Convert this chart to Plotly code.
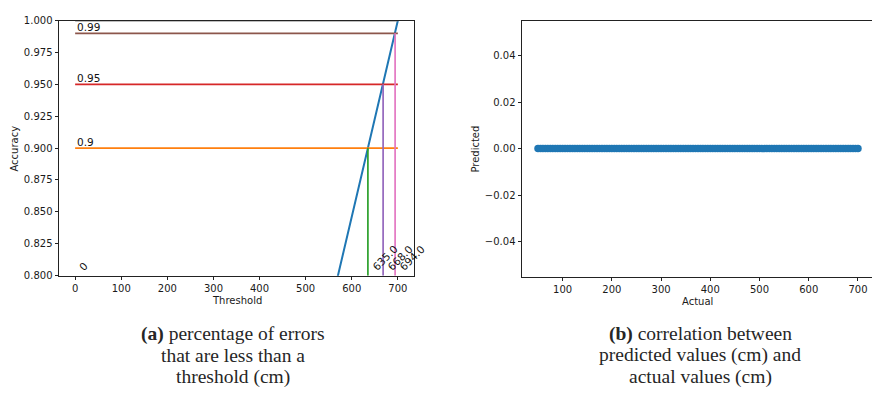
import plotly.graph_objects as go

# --- (a) accuracy vs. error threshold -------------------------------------
threshold = [0, 50, 700]
accuracy = [0.0, 0.0, 1.0]

acc_levels = [0.9, 0.95, 0.99, 1.0]
acc_level_labels = ["0.9", "0.95", "0.99", ""]
level_thresholds = [635.0, 668.0, 694.0]
level_threshold_labels = ["635.0", "668.0", "694.0"]
hline_colors = ["#ff7f0e", "#d62728", "#8c564b", "#7f7f7f"]
vline_colors = ["#2ca02c", "#9467bd", "#e377c2"]
x_ticks_a = [0, 100, 200, 300, 400, 500, 600, 700]
y_ticks_a = [0.8, 0.825, 0.85, 0.875, 0.9, 0.925, 0.95, 0.975, 1.0]

# --- (b) predicted vs. actual ---------------------------------------------
actual = [50, 55, 60, 65, 70, 75, 80, 85, 90, 95, 100, 105, 110, 115, 120,
          125, 130, 135, 140, 145, 150, 155, 160, 165, 170, 175, 180, 185,
          190, 195, 200, 205, 210, 215, 220, 225, 230, 235, 240, 245, 250,
          255, 260, 265, 270, 275, 280, 285, 290, 295, 300, 305, 310, 315,
          320, 325, 330, 335, 340, 345, 350, 355, 360, 365, 370, 375, 380,
          385, 390, 395, 400, 405, 410, 415, 420, 425, 430, 435, 440, 445,
          450, 455, 460, 465, 470, 475, 480, 485, 490, 495, 500, 505, 510,
          515, 520, 525, 530, 535, 540, 545, 550, 555, 560, 565, 570, 575,
          580, 585, 590, 595, 600, 605, 610, 615, 620, 625, 630, 635, 640,
          645, 650, 655, 660, 665, 670, 675, 680, 685, 690, 695, 700]
predicted = [0, 0, 0, 0, 0, 0, 0, 0, 0, 0, 0, 0, 0, 0, 0, 0, 0, 0, 0, 0, 0,
             0, 0, 0, 0, 0, 0, 0, 0, 0, 0, 0, 0, 0, 0, 0, 0, 0, 0, 0, 0, 0,
             0, 0, 0, 0, 0, 0, 0, 0, 0, 0, 0, 0, 0, 0, 0, 0, 0, 0, 0, 0, 0,
             0, 0, 0, 0, 0, 0, 0, 0, 0, 0, 0, 0, 0, 0, 0, 0, 0, 0, 0, 0, 0,
             0, 0, 0, 0, 0, 0, 0, 0, 0, 0, 0, 0, 0, 0, 0, 0, 0, 0, 0, 0, 0,
             0, 0, 0, 0, 0, 0, 0, 0, 0, 0, 0, 0, 0, 0, 0, 0, 0, 0, 0, 0, 0,
             0, 0, 0, 0, 0]
x_ticks_b = [100, 200, 300, 400, 500, 600, 700]
y_ticks_b = [-0.04, -0.02, 0.0, 0.02, 0.04]
y_tick_text_b = ["\u22120.04", "\u22120.02", "0.00", "0.02", "0.04"]

captions_a = ["<b>(a)</b> percentage of errors", "that are less than a", "threshold (cm)"]
captions_b = ["<b>(b)</b> correlation between", "predicted values (cm) and", "actual values (cm)"]

W, H = 872, 399
TICK_FONT = dict(family="DejaVu Sans", size=10, color="#1a1a1a")
LABEL_FONT = dict(family="DejaVu Sans", size=10, color="#1a1a1a")
CAPTION_FONT = dict(family="Liberation Serif", size=19.5, color="#262626")

fig = go.Figure()

# accuracy curve
fig.add_trace(go.Scatter(x=threshold, y=accuracy, mode="lines",
                         line=dict(color="#1f77b4", width=2),
                         xaxis="x", yaxis="y", showlegend=False))

# horizontal accuracy levels and the vertical thresholds that reach them
for i, lvl in enumerate(acc_levels):
    fig.add_trace(go.Scatter(x=[0, 700], y=[lvl, lvl], mode="lines",
                             line=dict(color=hline_colors[i], width=1.7),
                             xaxis="x", yaxis="y", showlegend=False))
    if i < len(level_thresholds):
        t = level_thresholds[i]
        fig.add_trace(go.Scatter(x=[t, t], y=[0.8, lvl], mode="lines",
                                 line=dict(color=vline_colors[i], width=1.7),
                                 xaxis="x", yaxis="y", showlegend=False))

# scatter of predictions
fig.add_trace(go.Scatter(x=actual, y=predicted, mode="markers",
                         marker=dict(color="#1f77b4", size=7.5, line=dict(width=0)),
                         xaxis="x2", yaxis="y2", showlegend=False))

axis_common = dict(showgrid=False, zeroline=False, showline=True, linecolor="#222",
                   linewidth=1, ticks="outside", ticklen=3.5, tickwidth=1,
                   tickcolor="#222", tickfont=TICK_FONT)

fig.update_layout(
    width=W, height=H, margin=dict(l=0, r=0, t=0, b=0),
    paper_bgcolor="white", plot_bgcolor="white",
    xaxis=dict(domain=[59 / W, 414 / W], range=[-35, 735], tickvals=x_ticks_a,
               mirror=True, anchor="y", **axis_common),
    yaxis=dict(domain=[1 - 278 / H, 1 - 15 / H], range=[0.8, 1.0], tickvals=y_ticks_a,
               tickformat=".3f", mirror=True, anchor="x", **axis_common),
    xaxis2=dict(domain=[522 / W, 1.0], range=[17.5, 728.5], tickvals=x_ticks_b,
                mirror=True, anchor="y2", **axis_common),
    yaxis2=dict(domain=[1 - 279 / H, 1 - 15 / H], range=[-0.055, 0.055], tickvals=y_ticks_b,
                ticktext=y_tick_text_b, mirror=False, anchor="x2", **axis_common),
)

ann = []
# level labels
for lvl, lab in zip(acc_levels, acc_level_labels):
    if lab:
        ann.append(dict(x=0, y=lvl, xref="x", yref="y", text=lab, showarrow=False,
                        xanchor="left", yanchor="bottom", yshift=-2,
                        font=dict(family="DejaVu Sans", size=10.5, color="#111")))
# threshold labels along the bottom
for t, lab in zip([0] + level_thresholds, ["0"] + level_threshold_labels):
    ann.append(dict(x=t, y=0.8, xref="x", yref="y", text=lab, showarrow=False,
                    textangle=-45, xanchor="left", yanchor="bottom", xshift=-1,
                    font=dict(family="DejaVu Sans", size=10.5, color="#111")))

# axis titles
ann += [
    dict(x=(59 + 414) / 2 / W, y=1 - 304 / H, xref="paper", yref="paper", text="Threshold",
         showarrow=False, font=LABEL_FONT, xanchor="center", yanchor="middle"),
    dict(x=15 / W, y=1 - 147 / H, xref="paper", yref="paper", text="Accuracy",
         showarrow=False, textangle=-90, font=LABEL_FONT, xanchor="center", yanchor="middle"),
    dict(x=(522 + 872) / 2 / W, y=1 - 305 / H, xref="paper", yref="paper", text="Actual",
         showarrow=False, font=LABEL_FONT, xanchor="center", yanchor="middle"),
    dict(x=476 / W, y=1 - 147 / H, xref="paper", yref="paper", text="Predicted",
         showarrow=False, textangle=-90, font=LABEL_FONT, xanchor="center", yanchor="middle"),
]

# captions
for k, (ca, cb) in enumerate(zip(captions_a, captions_b)):
    yc = 1 - (338 + 22 * k) / H
    ann.append(dict(x=233 / W, y=yc, xref="paper", yref="paper", text=ca, showarrow=False,
                    font=CAPTION_FONT, xanchor="center", yanchor="middle"))
    ann.append(dict(x=700 / W, y=yc, xref="paper", yref="paper", text=cb, showarrow=False,
                    font=CAPTION_FONT, xanchor="center", yanchor="middle"))

fig.update_layout(annotations=ann)
fig.write_html("out.html")
